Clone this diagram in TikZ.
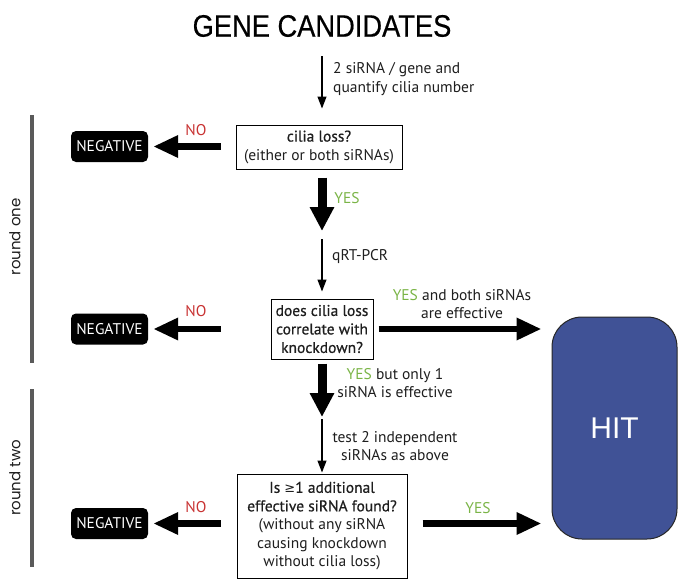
\documentclass[tikz,border=0pt]{standalone}
\usepackage{fontspec}
\setmainfont{PT Sans}
\newfontfamily\titlefont[FakeStretch=0.88,FakeBold=0.5]{Liberation Sans}
\newfontfamily\hitfont{Liberation Sans}
\newfontfamily\roundfont{Poppins}
\newfontfamily\boldish[FakeBold=0.6]{PT Sans}
\newfontfamily\symfont{DejaVu Sans}
\usetikzlibrary{arrows.meta}
\definecolor{hitblue}{RGB}{64,82,150}
\definecolor{yesgreen}{RGB}{122,180,70}
\definecolor{nored}{RGB}{200,50,50}
\definecolor{sidegray}{RGB}{90,90,90}
\definecolor{txt}{RGB}{30,30,30}
\tikzset{
  thinarrow/.style={line width=1.2pt, -{Triangle[length=12pt,width=9pt]}},
  vbig/.style={line width=9pt, -{Triangle[length=24pt,width=23pt]}},
  hbig/.style={line width=6.5pt, -{Triangle[length=25pt,width=21pt]}},
  qbox/.style={draw, line width=1pt, align=center, inner sep=0pt, text=txt,
    font=\fontsize{15.5}{18.5}\selectfont},
  negbox/.style={fill=black, rounded corners=5pt, text=white, minimum width=77pt,
    minimum height=31pt, inner sep=0pt, font=\fontsize{15.5}{15}\selectfont},
  lbl/.style={font=\fontsize{15.5}{18.5}\selectfont, align=center, inner sep=0pt, text=txt},
  yes/.style={lbl, text=yesgreen},
  no/.style={lbl, text=nored},
  sideline/.style={line width=4pt, sidegray},
  roundlbl/.style={rotate=90, inner sep=0pt, text=txt, font=\roundfont\fontsize{15}{15}\selectfont},
  hitbox/.style={fill=hitblue, draw=black!85, line width=1pt, rounded corners=30pt,
    minimum width=125pt, minimum height=222pt, text=white, inner sep=0pt,
    font=\hitfont\fontsize{30}{30}\selectfont}
}
\begin{document}
\begin{tikzpicture}[x=1pt, y=-1pt]
\useasboundingbox (0,0) rectangle (683,584);
% title
\node[inner sep=0pt, text=black, font=\titlefont\fontsize{31}{31}\selectfont] (title) at (322,26) {GENE CANDIDATES};
% side bars
\draw[sideline] (32,115) -- (32,363);
\draw[sideline] (32,389) -- (32,567);
\node[roundlbl] (r1) at (15,237) {round one};
\node[roundlbl] (r2) at (15,478) {round two};
% question boxes
\node[qbox, minimum width=166pt, minimum height=44pt] (box1) at (319,147)
  {{\boldish cilia loss?}\\(either or both siRNAs)};
\node[qbox, minimum width=102pt, minimum height=60pt] (box2) at (322,329)
  {\boldish does cilia loss\\\boldish correlate with\\\boldish knockdown?};
\node[qbox, minimum width=170pt, minimum height=104pt] (box3) at (322,526)
  {{\boldish Is {\symfont\fontsize{13}{18.5}\selectfont ≥}1 additional}\\{\boldish effective siRNA found?}\\(without any siRNA\\causing knockdown\\without cilia loss)};
% negatives
\node[negbox] (neg1) at (109.5,146.5) {NEGATIVE};
\node[negbox] (neg2) at (109.5,329) {NEGATIVE};
\node[negbox] (neg3) at (109.5,523.5) {NEGATIVE};
% hit
\node[hitbox] (hit) at (614.5,428) {HIT};
% vertical chain
\coordinate (m1) at (322,235);
\coordinate (m2) at (322,418);
\draw[thinarrow, shorten <=19pt, shorten >=16pt] (title.south) -- (title.south |- box1.north);
\draw[vbig, shorten <=8pt, shorten >=4pt] (box1.south -| m1) -- (m1);
\draw[thinarrow, shorten <=4pt, shorten >=7pt] (m1) -- (box2.north);
\draw[vbig, shorten <=4pt, shorten >=1pt] (box2.south) -- (m2);
\draw[thinarrow, shorten <=1pt, shorten >=1pt] (m2) -- (box3.north);
% NO arrows
\draw[hbig, shorten <=15pt, shorten >=5pt] (neg1.east -| box1.west) -- (neg1.east);
\draw[hbig, shorten <=50pt, shorten >=5pt] (neg2.east -| box2.west) -- (neg2.east);
\draw[hbig, shorten <=16pt, shorten >=5pt] (neg3.east -| box3.west) -- (neg3.east);
% YES arrows to HIT
\draw[hbig, shorten <=5pt, shorten >=10pt] (box2.east) -- (box2.east -| hit.west);
\draw[hbig, shorten <=15pt, shorten >=10pt] (neg3.east -| box3.east) -- (neg3.east -| hit.west);
% labels
\node[lbl, align=left, anchor=west] (l1) at (333,79) {2 siRNA / gene and\\quantify cilia number};
\node[lbl, anchor=west] (l2) at (332,257) {qRT-PCR};
\node[yes] (y1) at (347,198) {YES};
\node[lbl] (l3) at (462,304) {\textcolor{yesgreen}{YES} and both siRNAs\\are effective};
\node[lbl] (l4) at (395,383) {\textcolor{yesgreen}{YES} but only 1\\siRNA is effective};
\node[lbl] (l5) at (395,446) {test 2 independent\\siRNAs as above};
\node[yes] (y3) at (478,508) {YES};
\node[no] (n1) at (196,130) {NO};
\node[no] (n2) at (196,311) {NO};
\node[no] (n3) at (196,507) {NO};
\end{tikzpicture}
\end{document}
